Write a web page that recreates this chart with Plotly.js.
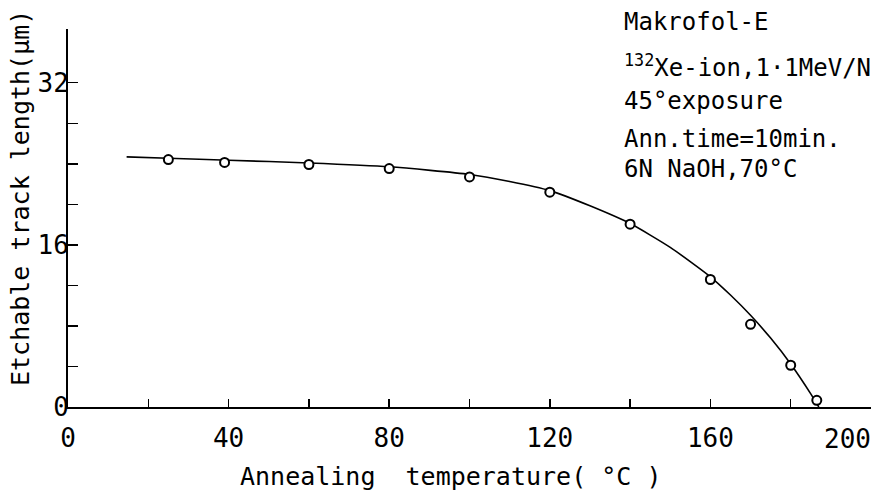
<!DOCTYPE html>
<html>
<head>
<meta charset="utf-8">
<script src="https://cdn.plot.ly/plotly-3.0.1.min.js"></script>
<style>html,body{margin:0;padding:0;background:#fff;}#chart{width:881px;height:492px;}</style>
</head>
<body>
<div id="chart"></div>
<script>
// measured points
var temps = [25, 39, 60, 80, 100, 120, 140, 160, 170, 180, 186.5];
var lengths = [24.42, 24.13, 23.93, 23.53, 22.7, 21.2, 18.04, 12.58, 8.16, 4.12, 0.66];
// hand-drawn fitted curve
var fitTemps = [14.6, 25, 40, 60, 80, 100, 110, 120, 130, 140, 150, 160, 165, 170, 175, 180, 185, 187];
var fitLengths = [24.68, 24.55, 24.35, 24.08, 23.7, 22.95, 22.25, 21.35, 19.85, 18.1, 15.75, 12.85, 11.05, 9.05, 6.8, 4.25, 1.3, 0];
// ticks
var xTickVals = [0, 40, 80, 120, 160];
var xTickText = ['0', '40', '80', '120', '160'];
var xMinorVals = [20, 60, 100, 140, 180, 200];
var yTickVals = [0, 16, 32];
var yTickText = ['0', '16', '32'];
var yMinorVals = [4, 8, 12, 20, 24, 28];
var xEndLabel = '200';
// titles
var xTitle = 'Annealing  temperature( °C )';
var yTitle = 'Etchable track length(μm)';
// legend text block
var infoLines = ['Makrofol-E', '<sup>132</sup>Xe-ion,1·1MeV/N', '45°exposure', 'Ann.time=10min.', '6N NaOH,70°C'];
var infoPx = [22, 66, 101, 139, 169];

var FONT = 'DejaVu Sans Mono, monospace';
var L = 68, R = 10, T = 29, B = 85, W = 881, H = 492;
var plotH = H - T - B, plotW = W - L - R;
function py(p) { return (H - B - p) / plotH; }
function px(p) { return (p - L) / plotW; }

var traces = [
  {x: fitTemps, y: fitLengths, mode: 'lines', type: 'scatter',
   line: {color: '#000', width: 1.6, shape: 'spline', smoothing: 0.6},
   hoverinfo: 'skip', showlegend: false},
  {x: temps, y: lengths, mode: 'markers', type: 'scatter',
   marker: {symbol: 'circle', size: 9, color: '#fff', line: {color: '#000', width: 2}},
   showlegend: false}
];

var annotations = infoLines.map(function (t, i) {
  return {x: px(622), y: py(infoPx[i]), xref: 'paper', yref: 'paper', text: t, showarrow: false,
          xanchor: 'left', yanchor: 'middle', font: {family: FONT, size: 24, color: '#000'}};
});
annotations.push({x: 200, y: 0, xref: 'x', yref: 'paper', text: xEndLabel, showarrow: false,
  xanchor: 'right', yanchor: 'top', yshift: -15, xshift: 2, font: {family: FONT, size: 26, color: '#000'}});
annotations.push({x: px(450), y: py(476), xref: 'paper', yref: 'paper', text: xTitle, showarrow: false,
  xanchor: 'center', yanchor: 'middle', borderpad: 0, font: {family: FONT, size: 25, color: '#000'}});
annotations.push({x: px(20), y: py(198), xref: 'paper', yref: 'paper', text: yTitle, showarrow: false,
  textangle: -90, xanchor: 'center', yanchor: 'middle', font: {family: FONT, size: 25, color: '#000'}});

var layout = {
  width: W, height: H,
  margin: {l: L, r: R, t: T, b: B},
  paper_bgcolor: '#fff', plot_bgcolor: '#fff',
  font: {family: FONT, size: 26, color: '#000'},
  xaxis: {
    range: [0, 200], showgrid: false, zeroline: false,
    showline: true, linecolor: '#000', linewidth: 2,
    ticks: 'inside', ticklen: 8, tickwidth: 1.5, tickcolor: '#000',
    tickmode: 'array', tickvals: xTickVals, ticktext: xTickText,
    minor: {tickmode: 'array', tickvals: xMinorVals, ticks: 'inside', ticklen: 8, tickwidth: 1.5, tickcolor: '#000', showgrid: false},
    ticklabelstandoff: 7,
    tickfont: {family: FONT, size: 26, color: '#000'}
  },
  yaxis: {
    range: [0, 37.3], showgrid: false, zeroline: false,
    showline: true, linecolor: '#000', linewidth: 2,
    ticks: 'inside', ticklen: 10, tickwidth: 1.5, tickcolor: '#000',
    tickmode: 'array', tickvals: yTickVals, ticktext: yTickText,
    minor: {tickmode: 'array', tickvals: yMinorVals, ticks: 'inside', ticklen: 10, tickwidth: 1.5, tickcolor: '#000', showgrid: false},
    ticklabelstandoff: -8,
    tickfont: {family: FONT, size: 26, color: '#000'}
  },
  annotations: annotations
};

Plotly.newPlot('chart', traces, layout, {displayModeBar: false, staticPlot: true});
</script>
</body>
</html>
